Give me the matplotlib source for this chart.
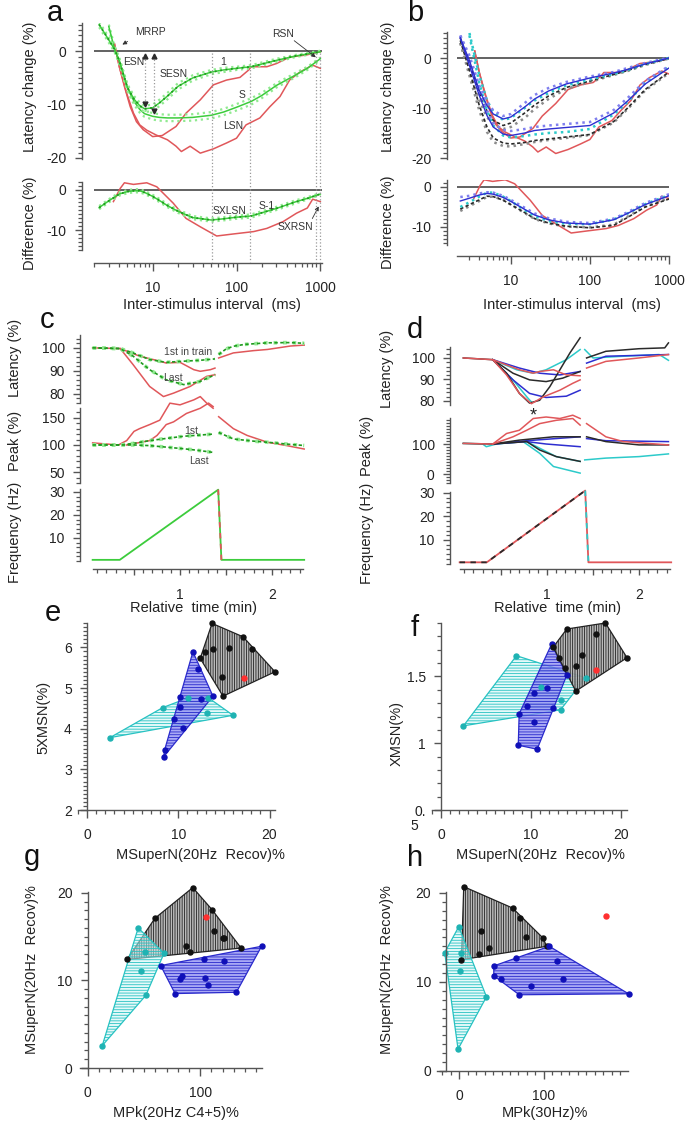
import numpy as np
import matplotlib
matplotlib.use('Agg')
import matplotlib.pyplot as plt
import matplotlib.transforms as mtransforms
from matplotlib.patches import Polygon, FancyArrowPatch
from matplotlib.lines import Line2D
from matplotlib.ticker import MultipleLocator, NullFormatter

plt.rcParams['font.family'] = ['Liberation Sans', 'DejaVu Sans']
plt.rcParams['axes.unicode_minus'] = False
plt.rcParams['hatch.linewidth'] = 0.6

nan = np.nan

# ---------------- panel a / b : latency recovery vs inter-stimulus interval
a_isi = [2.3, 3, 3.5, 4, 5, 6, 7, 8, 10, 12, 15, 20, 30, 50, 70, 100, 150, 200, 300, 500, 700, 1000]
a_g1 = [5.0, 2.1, 0.4, -1.8, -6.8, -9.0, -10.2, -10.8, -10.6, -9.7, -8.4, -6.6, -5.0, -3.9, -3.5, -3.2, -2.9, -2.4, -1.7, -0.9, -0.5, -0.1]
a_g1_hi = [5.5, 2.6, 0.9, -1.3, -6.2, -8.4, -9.6, -10.2, -10.0, -9.1, -7.8, -6.0, -4.5, -3.5, -3.1, -2.9, -2.6, -2.1, -1.4, -0.7, -0.3, 0.1]
a_g1_lo = [4.5, 1.6, -0.1, -2.3, -7.4, -9.6, -10.8, -11.4, -11.2, -10.3, -9.0, -7.2, -5.5, -4.3, -3.9, -3.5, -3.2, -2.7, -2.0, -1.1, -0.7, -0.3]
a_gS = [nan, 4.6, 0.5, -1.8, -6.9, -9.4, -10.9, -11.7, -12.2, -12.4, -12.5, -12.5, -12.4, -12.0, -11.4, -10.5, -9.4, -8.3, -6.4, -4.5, -3.2, -1.4]
a_gS_hi = [nan, 5.0, 1.0, -1.3, -6.3, -8.8, -10.3, -11.1, -11.6, -11.8, -11.9, -11.9, -11.8, -11.4, -10.8, -9.9, -8.8, -7.8, -6.0, -4.1, -2.9, -1.2]
a_gS_lo = [nan, 4.2, 0.0, -2.3, -7.5, -10.0, -11.5, -12.3, -12.8, -13.0, -13.1, -13.1, -13.0, -12.6, -12.0, -11.1, -10.0, -8.8, -6.8, -4.9, -3.5, -1.6]
a_gd = [-4.4, -2.7, -1.8, -1.0, -0.4, -0.2, -0.2, -0.6, -1.6, -2.6, -3.9, -5.3, -6.9, -7.5, -7.2, -6.8, -6.5, -5.7, -4.6, -3.0, -2.1, -1.0]
a_gd_hi = [-4.0, -2.3, -1.4, -0.6, 0.0, 0.2, 0.2, -0.2, -1.2, -2.2, -3.5, -4.9, -6.5, -7.1, -6.8, -6.4, -6.1, -5.3, -4.2, -2.6, -1.8, -0.8]
a_gd_lo = [-4.8, -3.1, -2.2, -1.4, -0.8, -0.6, -0.6, -1.0, -2.0, -3.0, -4.3, -5.7, -7.3, -7.9, -7.6, -7.2, -6.9, -6.1, -5.0, -3.4, -2.4, -1.2]

a_r1_x = [3.5, 4, 4.6, 5.4, 6.4, 7.7, 10, 13, 19, 25, 37, 53, 76, 110, 140, 150, 230, 300, 430, 680, 1000]
a_r1_y = [1.4, -2.9, -6.6, -10.4, -13.2, -14.7, -16.0, -15.8, -14.1, -11.6, -9.1, -6.3, -5.4, -4.9, -3.5, -2.9, -2.9, -2.3, -1.1, -0.7, -0.1]
a_r2_x = [3.5, 4, 4.9, 5.9, 7, 8.5, 11, 15, 19, 22, 28, 37, 53, 76, 100, 130, 190, 250, 330, 430, 570, 810, 1000]
a_r2_y = [1.4, -2.9, -7.9, -11.6, -13.8, -14.8, -15.7, -16.6, -17.8, -18.8, -17.8, -19.1, -18.3, -17.2, -16.3, -13.8, -12.5, -10.4, -8.5, -5.4, -3.9, -2.6, -3.2]
a_rd_x = [3.4, 4.1, 4.6, 5.9, 8.5, 11.2, 17.6, 25, 37, 58, 91, 160, 230, 360, 520, 700, 810, 1000]
a_rd_y = [-2.9, 0.4, 1.8, 1.4, 1.8, 0.8, -3.3, -7.1, -9.2, -11.5, -11.0, -10.4, -9.6, -7.9, -5.8, -4.5, -2.3, -2.9]
a_vlines = [51, 144, 880, 1000]
a_arrow_x = [8.1, 10.5]
a_arrow_y = [-9.8, -11.2]

b_isi = [2.3, 3, 4, 5, 6, 8, 10, 15, 20, 30, 50, 100, 200, 300, 500, 1000]
b_blue1 = [4, -0.5, -6.5, -9.5, -11.2, -12.2, -11.8, -9.8, -8.2, -6.6, -5.2, -4.0, -3.0, -2.3, -1.2, 0]
b_bluedot1 = [4.5, 0.5, -5.5, -8.7, -10.5, -11.6, -11.2, -9.0, -7.4, -6.0, -4.8, -3.7, -2.8, -2.0, -1.0, 0.1]
b_cyan1 = [nan, 5, -3.5, -8.5, -10.8, -12.4, -12.0, -10.0, -8.5, -7.0, -5.5, -4.3, -3.2, -2.4, -1.2, 0]
b_black1 = [4, -1, -7, -10.6, -12.5, -13.5, -13.0, -11.0, -9.4, -7.6, -5.9, -4.6, -3.3, -2.5, -1.3, -0.1]
b_grey1 = [3, -2.5, -8.5, -11.8, -13.3, -14.2, -13.8, -12.0, -10.2, -8.2, -6.2, -4.8, -3.4, -2.6, -1.4, -0.1]
b_blueS = [4, -1.5, -7.5, -11.5, -13.8, -15.2, -15.5, -15.0, -14.5, -14.2, -13.9, -13.5, -11.0, -8.6, -5.2, -2.0]
b_bluedotS = [4.5, -0.5, -6.5, -10.5, -13.0, -14.4, -14.6, -14.2, -13.8, -13.5, -13.2, -12.8, -10.4, -8.0, -4.6, -1.6]
b_cyanS = [nan, 4.5, -5, -10.5, -13.5, -15.5, -15.9, -15.6, -15.3, -15.0, -14.8, -14.2, -11.3, -8.8, -5.0, -1.8]
b_blackS = [3.5, -2.5, -9.5, -13.8, -16.0, -17.0, -17.2, -16.9, -16.5, -16.2, -15.8, -15.3, -12.7, -10.0, -6.3, -2.8]
b_greyS = [3, -3.5, -10.5, -14.8, -16.8, -17.6, -17.7, -17.2, -16.8, -16.4, -16.0, -15.4, -12.9, -10.2, -6.5, -3.0]
b_blue_d = [-3.5, -2.8, -2.0, -1.6, -1.8, -2.6, -3.6, -5.6, -7.0, -8.2, -9.0, -9.3, -8.2, -6.6, -4.4, -2.2]
b_bluedot_d = [-2.5, -2.2, -1.6, -1.3, -1.4, -2.2, -3.2, -5.2, -6.6, -7.8, -8.7, -9.0, -7.9, -6.3, -4.0, -1.8]
b_cyan_d = [-5.0, -3.8, -2.4, -1.4, -1.4, -2.4, -3.5, -5.8, -7.3, -8.5, -9.2, -9.3, -8.1, -6.6, -4.3, -2.0]
b_black_d = [-5.5, -4.4, -3.2, -2.3, -2.4, -3.3, -4.4, -6.4, -7.9, -9.0, -9.8, -10.2, -9.6, -7.6, -5.0, -3.0]
b_grey_d = [-6.0, -4.8, -3.5, -2.5, -2.4, -3.2, -4.4, -6.5, -8.0, -9.1, -9.9, -10.1, -9.4, -7.4, -4.9, -2.8]

# ---------------- panel c / d : ramp stimulation (time in min)
c_t = [0.05, 0.35, 0.49, 0.67, 0.85, 1.04, 1.22, 1.38]
c_g1st = [100, 99.7, 97.8, 94.9, 93.7, 94.2, 94.6, 95.2]
c_glast = [100, 99.7, 96.4, 90.5, 86.1, 84.0, 85.4, 88.3]
c_grec_t = [1.42, 1.5, 1.58, 1.7, 1.95, 2.2, 2.35]
c_grec = [97.1, 99.5, 100.7, 101.5, 102.2, 102.3, 102.0]
c_r1st_t = [0.05, 0.35, 0.56, 0.75, 0.85, 1.0, 1.15, 1.22, 1.33, 1.38]
c_r1st = [100, 99.7, 96.4, 94.5, 93.4, 93.7, 90.5, 89.8, 90.5, 91.2]
c_rlast_t = [0.35, 0.49, 0.67, 0.82, 0.93, 1.11, 1.29, 1.38]
c_rlast = [99.7, 92.7, 83.2, 78.8, 80.3, 83.2, 87.6, 88.3]
c_rrec_t = [1.42, 1.58, 1.8, 1.95, 2.2, 2.35]
c_rrec = [95.6, 97.8, 98.8, 99.3, 100.8, 101.2]

c_pt = [0.05, 0.35, 0.5, 0.67, 0.85, 1.04, 1.2, 1.36]
c_gp1 = [100, 100, 103, 108, 112, 116, 118, 120]
c_gplast = [100, 100, 100, 98.8, 96, 93, 90, 86.3]
c_gprec_t = [1.42, 1.58, 1.8, 1.95, 2.2, 2.35]
c_gprec = [123, 111, 107, 105, 101, 99]
c_rp1_t = [0.05, 0.33, 0.42, 0.5, 0.56, 0.67, 0.78, 0.89, 1.0, 1.15, 1.22, 1.29, 1.36]
c_rp1 = [103.8, 100, 108, 125, 130, 137.5, 145.6, 176.9, 173.8, 183, 189, 177, 167.5]
c_rp2_t = [0.42, 0.67, 0.75, 0.85, 0.93, 1.07, 1.22, 1.31, 1.36]
c_rp2 = [100, 108, 117.5, 137.5, 142.5, 158, 167.5, 177, 170.6]
c_rprec_t = [1.42, 1.58, 1.73, 1.95, 2.16, 2.35]
c_rprec = [152, 130, 117.5, 105, 98.8, 92.5]

freq_t = [0.05, 0.345, 1.415, 1.45, 2.35]
freq_hz = [0.5, 0.5, 31, 0.5, 0.5]

d_blk_last_t = [0.09, 0.41, 0.56, 0.70, 0.81, 0.92, 1.03, 1.14, 1.25, 1.36]
d_blk_last = [100, 99.2, 92.9, 83.5, 79, 80.3, 86.6, 94.5, 102.4, 109.4]
d_blk_1st_t = [0.41, 0.63, 0.81, 0.99, 1.17, 1.36]
d_blk_1st = [99.2, 92.9, 89.8, 89, 90.6, 93.7]
d_blk_rec_t = [1.43, 1.64, 2.0, 2.28, 2.32]
d_blk_rec = [100, 103.1, 104.3, 104.7, 107]
d_red_last_t = [0.09, 0.41, 0.56, 0.70, 0.83, 0.96, 1.14, 1.28, 1.36]
d_red_last = [100, 99.2, 92.1, 83.5, 78.7, 81.9, 85, 88.2, 89.8]
d_red_1st_t = [0.41, 0.70, 0.85, 0.92, 1.07, 1.21, 1.36]
d_red_1st = [99.2, 94.5, 92.9, 93.7, 94.5, 92.1, 91.7]
d_red_rec_t = [1.43, 1.64, 2.0, 2.32]
d_red_rec = [95.3, 98.4, 100, 101.6]
d_blu_1st_t = [0.41, 0.70, 0.92, 1.14, 1.36]
d_blu_1st = [99.2, 95.3, 92.9, 92.1, 93.7]
d_blu_last_t = [0.41, 0.63, 0.81, 0.99, 1.21, 1.36]
d_blu_last = [99.2, 89.8, 83.5, 81.6, 82.2, 85]
d_blu_rec_t = [1.43, 1.64, 2.0, 2.32]
d_blu_rec = [97.6, 100.8, 101.2, 101.6]
d_cyn_1st_t = [0.41, 0.67, 0.85, 0.99, 1.21, 1.36]
d_cyn_1st = [99.2, 94.5, 92.9, 94.5, 99.2, 103.9]
d_cyn_last_t = [0.41, 0.63, 0.78, 0.83]
d_cyn_last = [99.2, 89.8, 81.9, 79.5]
d_cyn_rec_t = [1.41, 1.5, 1.83, 2.22, 2.32]
d_cyn_rec = [103.9, 100, 100.8, 101.6, 98.9]

d_red_p1_t = [0.09, 0.41, 0.56, 0.70, 0.85, 0.99, 1.14, 1.28, 1.36]
d_red_p1 = [102, 100, 135, 146, 185, 190, 185, 196, 185]
d_red_p2_t = [0.41, 0.63, 0.78, 0.92, 1.1, 1.28, 1.36]
d_red_p2 = [100, 124, 146, 168, 179, 185, 163]
d_red_prec_t = [1.43, 1.64, 1.83, 2.32]
d_red_prec = [168, 124, 108, 97]
d_blk_p1_t = [0.09, 0.41, 0.70, 1.07, 1.36]
d_blk_p1 = [102, 100, 113, 124, 124]
d_blk_p2_t = [0.41, 0.78, 0.92, 1.1, 1.36]
d_blk_p2 = [100, 108, 80, 58, 42]
d_blk_prec_t = [1.43, 1.64, 2.0, 2.32]
d_blk_prec = [124, 108, 97, 97]
d_blu_p1_t = [0.41, 0.78, 1.36]
d_blu_p1 = [100, 111, 124]
d_blu_p2_t = [0.41, 0.78, 0.99, 1.36]
d_blu_p2 = [100, 108, 100, 91]
d_blu_prec_t = [1.43, 1.64, 2.32]
d_blu_prec = [118, 111, 108]
d_cyn_p1_t = [0.09, 0.30, 0.34, 0.45, 0.74, 0.92, 1.07, 1.36]
d_cyn_p1 = [102, 100, 91, 100, 108, 69, 25, 3]
d_cyn_p2_t = [0.78, 0.92, 1.1, 1.36]
d_cyn_p2 = [108, 86, 58, 42]
d_cyn_prec_t = [1.41, 1.64, 2.0, 2.32]
d_cyn_prec = [47, 53, 58, 67]

# ---------------- panels e-h : group scatter
e_black_x = [12.4, 13.7, 17.1, 18.1, 20.6, 14.9, 12.9, 13.8, 15.6, 14.8]
e_black_y = [5.73, 6.59, 6.26, 5.95, 5.40, 4.80, 5.89, 5.97, 5.99, 5.26]
e_blue_x = [11.6, 12.2, 13.8, 12.5, 10.2, 10.2, 9.5, 10.5, 8.5, 8.4]
e_blue_y = [5.89, 5.48, 4.80, 4.72, 4.77, 4.54, 4.23, 4.02, 3.48, 3.31]
e_cyan_x = [2.5, 8.3, 11.1, 13.3, 13.1, 16.0]
e_cyan_y = [3.78, 4.52, 4.76, 4.76, 4.39, 4.33]
e_red = [17.2, 5.24]

f_black_x = [14.0, 18.3, 20.7, 15.0, 12.5, 13.1, 13.8, 15.0, 15.7, 17.3]
f_black_y = [1.855, 1.90, 1.64, 1.39, 1.72, 1.64, 1.56, 1.575, 1.66, 1.82]
f_blue_x = [12.3, 14.0, 12.5, 10.7, 8.6, 8.7, 9.6, 10.3, 11.8, 10.3]
f_blue_y = [1.74, 1.51, 1.26, 0.955, 0.985, 1.22, 1.28, 1.375, 1.41, 1.16]
f_cyan_x = [2.5, 8.4, 16.1, 13.3, 13.3, 11.1]
f_cyan_y = [1.13, 1.655, 1.49, 1.32, 1.25, 1.42]
f_red = [17.3, 1.55]

g_black_x = [93.4, 110.4, 136.4, 34.9, 59.7, 111.9, 120.3, 121.5, 87.5, 91.0]
g_black_y = [20.6, 18.1, 13.7, 12.4, 17.1, 15.6, 14.9, 14.8, 13.9, 13.2]
g_blue_x = [154.6, 132.2, 77.6, 64.8, 103.0, 121.5, 83.6, 82.1, 104.5, 106.6]
g_blue_y = [13.9, 8.65, 8.5, 11.7, 12.5, 12.2, 10.55, 10.2, 10.25, 9.5]
g_cyan_x = [12.8, 51.6, 67.8, 44.8, 46.9, 51.3]
g_cyan_y = [2.55, 8.3, 13.1, 16.0, 11.1, 13.2]
g_red = [104.8, 17.2]

h_black_x = [5.5, 63, 71.7, 99.2, 103, 2.8, 26.4, 78.7, 35.4, 23.6]
h_black_y = [20.7, 18.3, 17.2, 14.9, 14.0, 12.5, 15.7, 15.0, 13.8, 13.1]
h_blue_x = [106.3, 199.6, 70.9, 40.9, 40.9, 66.5, 115.7, 122.0, 84.6, 49.2]
h_blue_y = [14.0, 8.67, 8.56, 10.7, 11.8, 12.65, 12.3, 10.3, 9.5, 10.3]
h_cyan_x = [-0.4, -16.9, 2.8, 1.6, 32.3, -1.2]
h_cyan_y = [16.2, 13.3, 13.2, 11.25, 8.33, 2.46]
h_red = [173, 17.4]

GREEN = '#3ccc3c'
LGREEN = '#90ea90'
DGREEN = '#1e9a1e'
RED = '#e0575a'
BLUE = '#2e2ed0'
LBLUE = '#7f7fee'
CYAN = '#2ccaca'
BLACK = '#2a2a2a'
GREY = '#8c8c8c'
AXC = '#555555'

W, H = 685, 1122
fig = plt.figure(figsize=(W / 100, H / 100), dpi=100)


def axes_px(x0, y0, x1, y1):
    return fig.add_axes([x0 / W, 1 - y1 / H, (x1 - x0) / W, (y1 - y0) / H])


def ftext(x, y, s, **kw):
    fig.text(x / W, 1 - y / H, s, **kw)


def frame(ax, lpad=0, bpad=None):
    ax.patch.set_visible(False)
    ax.spines['top'].set_visible(False)
    ax.spines['right'].set_visible(False)
    ax.spines['left'].set_position(('outward', lpad * 0.72))
    if bpad is None:
        ax.spines['bottom'].set_visible(False)
        ax.tick_params(axis='x', which='both', bottom=False, labelbottom=False)
    else:
        ax.spines['bottom'].set_position(('outward', bpad * 0.72))
    for s in ('left', 'bottom'):
        ax.spines[s].set_color(AXC)
        ax.spines[s].set_linewidth(1.0)
    ax.tick_params(which='both', direction='out', colors=AXC, labelcolor='#222222', labelsize=10)
    ax.tick_params(which='major', length=5, width=1.0, pad=6)
    ax.tick_params(which='minor', length=3.2, width=0.9)
    ax.tick_params(axis='x', which='major', length=6, pad=7)


def log_axis(ax):
    ax.set_xscale('log')
    ax.set_xticks([10, 100, 1000])
    ax.set_xticklabels(['10', '100', '1000'])
    ax.xaxis.set_minor_formatter(NullFormatter())


def hull(xs, ys):
    pts = sorted(set(zip(xs, ys)))

    def cross(o, a, b):
        return (a[0] - o[0]) * (b[1] - o[1]) - (a[1] - o[1]) * (b[0] - o[0])
    lower, upper = [], []
    for p in pts:
        while len(lower) >= 2 and cross(lower[-2], lower[-1], p) <= 0:
            lower.pop()
        lower.append(p)
    for p in reversed(pts):
        while len(upper) >= 2 and cross(upper[-2], upper[-1], p) <= 0:
            upper.pop()
        upper.append(p)
    return lower[:-1] + upper[:-1]


def band(ax, x, c, hi, lo, dots=False):
    ax.plot(x, hi, ls=':', color=LGREEN, lw=1.6)
    ax.plot(x, lo, ls=':', color=LGREEN, lw=1.6)
    ax.plot(x, c, color=GREEN, lw=1.1)
    if dots:
        ax.plot(x, c, ls=(0, (1, 2)), color=DGREEN, lw=1.3)


# ================= panel a
ax = axes_px(94, 23, 322, 159)
frame(ax, 12)
log_axis(ax)
ax.set_xlim(10 ** 0.30, 10 ** 3.02)
ax.set_ylim(-20.2, 5.3)
ax.set_yticks([0, -10, -20])
ax.yaxis.set_minor_locator(MultipleLocator(1))
ax.axhline(0, color='#555555', lw=1.3)
ax.plot(a_r1_x, a_r1_y, color=RED, lw=1.1)
ax.plot(a_r2_x, a_r2_y, color=RED, lw=1.1)
band(ax, a_isi, a_gS, a_gS_hi, a_gS_lo)
band(ax, a_isi, a_g1, a_g1_hi, a_g1_lo, dots=True)
for xv, yv in zip(a_arrow_x, a_arrow_y):
    ax.plot([xv, xv], [-0.9, yv], ls=':', color='#999999', lw=0.9)
    ax.plot([xv], [-0.9], marker='^', color=BLACK, ms=3.5)
    ax.plot([xv], [yv], marker='v', color=BLACK, ms=3.5)
ax_a = ax

ax = axes_px(94, 182, 322, 250)
frame(ax, 12, 13)
log_axis(ax)
ax.set_xlim(10 ** 0.30, 10 ** 3.02)
ax.set_ylim(-15, 2)
ax.set_yticks([0, -10])
ax.yaxis.set_minor_locator(MultipleLocator(1))
ax.axhline(0, color='#555555', lw=1.3)
ax.plot(a_rd_x, a_rd_y, color=RED, lw=1.1)
band(ax, a_isi, a_gd, a_gd_hi, a_gd_lo, dots=True)

trans = mtransforms.blended_transform_factory(ax_a.transData, fig.transFigure)
for xv in a_vlines:
    fig.add_artist(Line2D([xv, xv], [1 - 53 / H, 1 - 262 / H], transform=trans,
                          ls=':', color='#999999', lw=0.9))

ann = dict(fontsize=7.5, color='#333333', ha='center', va='center')
ftext(150, 32, 'MRRP', **ann)
ftext(134, 62, 'ESN', **ann)
ftext(174, 74, 'SESN', **ann)
ftext(223, 62, '1', **ann)
ftext(242, 95, 'S', **ann)
ftext(233, 126, 'LSN', **ann)
ftext(283, 34, 'RSN', **ann)
ftext(230, 211, 'SXLSN', **ann)
ftext(267, 206, 'S-1', **ann)
ftext(295, 227, 'SXRSN', **ann)
arrow = dict(arrowstyle='-|>', color='#333333', lw=0.6, mutation_scale=6)
for (x0, y0), (x1, y1) in [((130, 40), (120, 46)), ((292, 39), (318, 59)), ((311, 221), (320, 204))]:
    fig.add_artist(FancyArrowPatch((x0 / W, 1 - y0 / H), (x1 / W, 1 - y1 / H),
                                   transform=fig.transFigure, **arrow))

# ================= panel b
ax = axes_px(457, 32, 669, 159)
frame(ax, 10)
log_axis(ax)
ax.set_xlim(10 ** 0.32, 10 ** 3.0)
ax.set_ylim(-20.2, 5.2)
ax.set_yticks([0, -10, -20])
ax.yaxis.set_minor_locator(MultipleLocator(1))
ax.axhline(0, color='#555555', lw=1.3)
ax.plot(a_r1_x, a_r1_y, color=RED, lw=1.1)
ax.plot(a_r2_x, a_r2_y, color=RED, lw=1.1)
for ys in (b_grey1, b_greyS):
    ax.plot(b_isi, ys, ls=':', color=GREY, lw=1.8)
for ys in (b_black1, b_blackS):
    ax.plot(b_isi, ys, ls=(0, (2, 1.5)), color=BLACK, lw=1.2)
for ys in (b_cyan1, b_cyanS):
    ax.plot(b_isi, ys, ls=':', color=CYAN, lw=1.8)
for ys in (b_bluedot1, b_bluedotS):
    ax.plot(b_isi, ys, ls=':', color=LBLUE, lw=1.8)
for ys in (b_blue1, b_blueS):
    ax.plot(b_isi, ys, color=BLUE, lw=1.0)

ax = axes_px(457, 180, 669, 245)
frame(ax, 10, 11)
log_axis(ax)
ax.set_xlim(10 ** 0.32, 10 ** 3.0)
ax.set_ylim(-14.5, 1.75)
ax.set_yticks([0, -10])
ax.yaxis.set_minor_locator(MultipleLocator(1))
ax.axhline(0, color='#555555', lw=1.3)
ax.plot(a_rd_x, a_rd_y, color=RED, lw=1.1)
ax.plot(b_isi, b_grey_d, ls=':', color=GREY, lw=1.8)
ax.plot(b_isi, b_black_d, ls=(0, (2, 1.5)), color=BLACK, lw=1.2)
ax.plot(b_isi, b_cyan_d, ls=':', color=CYAN, lw=1.8)
ax.plot(b_isi, b_bluedot_d, ls=':', color=LBLUE, lw=1.8)
ax.plot(b_isi, b_blue_d, color=BLUE, lw=1.0)


# ================= panel c
def time_axes(x0, x1, rows, lpad, bpad):
    axs = []
    for i, (y0, y1, lim) in enumerate(rows):
        a = axes_px(x0, y0, x1, y1)
        frame(a, lpad, bpad if i == len(rows) - 1 else None)
        a.set_xlim(0.054, 2.337)
        a.set_ylim(*lim)
        axs.append(a)
    last = axs[-1]
    last.set_xticks([0.5, 1, 1.5, 2])
    last.set_xticklabels(['', '1', '', '2'])
    last.xaxis.set_minor_locator(MultipleLocator(0.1))
    last.tick_params(axis='x', which='major', length=4, pad=10)
    return axs


c_lat, c_pk, c_fr = time_axes(93, 303, [(335, 403, (76, 105.6)), (408, 483, (30, 168)),
                                        (489, 561, (0, 31.3))], 13, 8)
c_lat.set_yticks([80, 90, 100])
c_lat.yaxis.set_minor_locator(MultipleLocator(2))
c_pk.set_yticks([50, 100, 150])
c_pk.yaxis.set_minor_locator(MultipleLocator(10))
c_fr.set_yticks([10, 20, 30])
c_fr.yaxis.set_minor_locator(MultipleLocator(2))

lk = dict(lw=1.1, clip_on=False)
c_lat.plot(c_r1st_t, c_r1st, color=RED, **lk)
c_lat.plot(c_rlast_t, c_rlast, color=RED, **lk)
c_lat.plot(c_rrec_t, c_rrec, color=RED, **lk)
for ys in (c_g1st, c_glast):
    c_lat.plot(c_t, ys, ls=':', color=LGREEN, lw=2.6, clip_on=False)
    c_lat.plot(c_t, ys, ls=(0, (2, 1.5)), color=DGREEN, lw=1.2, clip_on=False)
c_lat.plot(c_grec_t, c_grec, ls=':', color=LGREEN, lw=2.6, clip_on=False)
c_lat.plot(c_grec_t, c_grec, ls=(0, (2, 1.5)), color=DGREEN, lw=1.2, clip_on=False)

c_pk.plot(c_rp1_t, c_rp1, color=RED, **lk)
c_pk.plot(c_rp2_t, c_rp2, color=RED, **lk)
c_pk.plot(c_rprec_t, c_rprec, color=RED, **lk)
for tt, ys in ((c_pt, c_gp1), (c_pt, c_gplast), (c_gprec_t, c_gprec)):
    c_pk.plot(tt, ys, ls=':', color=LGREEN, lw=2.6, clip_on=False)
    c_pk.plot(tt, ys, ls=(0, (2, 1.5)), color=DGREEN, lw=1.2, clip_on=False)

c_fr.plot(freq_t, freq_hz, color=GREEN, lw=1.3, clip_on=False)
c_fr.plot(freq_t[2:4], freq_hz[2:4], ls=(0, (3, 3)), color=RED, lw=1.3, clip_on=False)

lab = dict(fontsize=7.5, color='#444444', ha='center', va='center')
ftext(188, 352, '1st in train', **lab)
ftext(173, 378, 'Last', **lab)
ftext(191, 431, '1st', **lab)
ftext(199, 461, 'Last', **lab)

# ================= panel d
d_lat, d_pk, d_fr = time_axes(460, 670, [(347, 405, (78.1, 105.1)), (418, 483, (-30, 186.7)),
                                         (492, 563.5, (0, 30.4))], 10, 5.5)
d_lat.set_yticks([80, 90, 100])
d_lat.yaxis.set_minor_locator(MultipleLocator(2))
d_pk.set_yticks([0, 100])
d_pk.yaxis.set_minor_locator(MultipleLocator(10))
d_fr.set_yticks([10, 20, 30])
d_fr.yaxis.set_minor_locator(MultipleLocator(2))

for tt, ys, col in ((d_cyn_1st_t, d_cyn_1st, CYAN), (d_cyn_last_t, d_cyn_last, CYAN),
                    (d_cyn_rec_t, d_cyn_rec, CYAN),
                    (d_blu_1st_t, d_blu_1st, BLUE), (d_blu_last_t, d_blu_last, BLUE),
                    (d_blu_rec_t, d_blu_rec, BLUE),
                    (d_blk_1st_t, d_blk_1st, BLACK), (d_blk_last_t, d_blk_last, BLACK),
                    (d_blk_rec_t, d_blk_rec, BLACK),
                    (d_red_1st_t, d_red_1st, RED), (d_red_last_t, d_red_last, RED),
                    (d_red_rec_t, d_red_rec, RED)):
    d_lat.plot(tt, ys, color=col, **lk)

for tt, ys, col in ((d_cyn_p1_t, d_cyn_p1, CYAN), (d_cyn_p2_t, d_cyn_p2, CYAN),
                    (d_cyn_prec_t, d_cyn_prec, CYAN),
                    (d_blu_p1_t, d_blu_p1, BLUE), (d_blu_p2_t, d_blu_p2, BLUE),
                    (d_blu_prec_t, d_blu_prec, BLUE),
                    (d_blk_p1_t, d_blk_p1, BLACK), (d_blk_p2_t, d_blk_p2, BLACK),
                    (d_blk_prec_t, d_blk_prec, BLACK),
                    (d_red_p1_t, d_red_p1, RED), (d_red_p2_t, d_red_p2, RED),
                    (d_red_prec_t, d_red_prec, RED)):
    d_pk.plot(tt, ys, color=col, **lk)

d_fr.plot(freq_t, freq_hz, color=RED, lw=1.3, clip_on=False)
d_fr.plot(freq_t[:3], freq_hz[:3], ls=(0, (3, 3)), color=BLACK, lw=1.3, clip_on=False)
d_fr.plot(freq_t[2:4], freq_hz[2:4], ls=(0, (3, 3)), color=CYAN, lw=1.3, clip_on=False)
ftext(533, 416, '*', fontsize=13, ha='center', va='center', color='#222222')


# ================= panels e-h
def scatter_panel(box, xlim, ylim, yspine, groups, red):
    ax = axes_px(*box)
    frame(ax, 0, 0)
    ax.spines['left'].set_position(('data', yspine))
    ax.set_xlim(*xlim)
    ax.set_ylim(*ylim)
    styles = {
        'black': dict(fc=(0.70, 0.70, 0.70, 0.9), ec='#222222', hatch='|||||||', pc='#111111'),
        'cyan': dict(fc=(0.82, 0.96, 0.96, 0.55), ec='#27c2c2', hatch='------', pc='#1fb3b3'),
        'blue': dict(fc=(0.55, 0.55, 0.95, 0.75), ec='#2a2acc', hatch='------', pc='#1010b8'),
    }
    for name, xs, ys in groups:
        st = styles[name]
        ax.add_patch(Polygon(hull(xs, ys), closed=True, facecolor=st['fc'], edgecolor=st['ec'],
                             hatch=st['hatch'], lw=0.9, clip_on=False))
    for name, xs, ys in groups:
        ax.plot(xs, ys, 'o', color=styles[name]['pc'], ms=3.6, ls='none', clip_on=False)
    ax.plot([red[0]], [red[1]], 'o', color='#ff3030', ms=3.6, clip_on=False)
    return ax


ax = scatter_panel((78, 623, 275, 810), (-1, 20.6), (2, 6.6), 0,
                   [('cyan', e_cyan_x, e_cyan_y), ('blue', e_blue_x, e_blue_y),
                    ('black', e_black_x, e_black_y)], e_red)
ax.set_xticks([0, 10, 20])
ax.xaxis.set_minor_locator(MultipleLocator(1))
ax.set_yticks([2, 3, 4, 5, 6])
ax.yaxis.set_minor_locator(MultipleLocator(0.1))

ax = scatter_panel((432, 623, 627, 810), (-1, 20.7), (0.5, 1.9), 0,
                   [('cyan', f_cyan_x, f_cyan_y), ('blue', f_blue_x, f_blue_y),
                    ('black', f_black_x, f_black_y)], f_red)
ax.set_xticks([0, 10, 20])
ax.xaxis.set_minor_locator(MultipleLocator(1))
ax.set_yticks([0.5, 1, 1.5])
ax.set_yticklabels(['0.', '1', '1.5'])
ax.yaxis.set_minor_locator(MultipleLocator(0.1))
ftext(414, 826, '5', fontsize=10, ha='center', va='center', color='#222222')

ax = scatter_panel((80, 892, 262, 1068), (-7, 155), (0, 20.1), 0,
                   [('black', g_black_x, g_black_y), ('cyan', g_cyan_x, g_cyan_y),
                    ('blue', g_blue_x, g_blue_y)], g_red)
ax.set_xticks([0, 100])
ax.xaxis.set_minor_locator(MultipleLocator(10))
ax.set_yticks([0, 10, 20])
ax.yaxis.set_minor_locator(MultipleLocator(1))

ax = scatter_panel((437, 892, 628, 1071), (-26, 199), (0, 20.1), -15,
                   [('black', h_black_x, h_black_y), ('cyan', h_cyan_x, h_cyan_y),
                    ('blue', h_blue_x, h_blue_y)], h_red)
ax.set_xticks([0, 100])
ax.xaxis.set_minor_locator(MultipleLocator(10))
ax.set_yticks([0, 10, 20])
ax.yaxis.set_minor_locator(MultipleLocator(1))

# make sure the minor ticks of every axis are drawn with the same style
for a in fig.axes:
    a.yaxis.set_tick_params(which='minor', length=3.2, width=0.9, color=AXC, left=True)
    if a.spines['bottom'].get_visible():
        a.xaxis.set_tick_params(which='minor', length=3.2, width=0.9, color=AXC, bottom=True)

# ================= labels
yl = dict(fontsize=10.5, rotation=90, ha='center', va='center', color='#222222')
ftext(30, 87, 'Latency change (%)', **yl)
ftext(30, 223, 'Difference (%)', **yl)
ftext(388, 87, 'Latency change (%)', **yl)
ftext(388, 222, 'Difference (%)', **yl)
ftext(15, 358, 'Latency (%)', **yl)
ftext(15, 441, 'Peak (%)', **yl)
ftext(15, 532, 'Frequency (Hz)', **yl)
ftext(387, 369, 'Latency (%)', **yl)
ftext(367, 446, 'Peak (%)', **yl)
ftext(367, 533, 'Frequency (Hz)', **yl)
ftext(43, 717, '5XMSN(%)', **yl)
ftext(397, 733, 'XMSN(%)', **yl)
ftext(32, 970, 'MSuperN(20Hz  Recov)%', **yl)
ftext(387, 970, 'MSuperN(20Hz  Recov)%', **yl)

xl = dict(fontsize=10.5, ha='center', va='center', color='#222222')
ftext(212, 305, 'Inter-stimulus interval  (ms)', **xl)
ftext(572, 305, 'Inter-stimulus interval  (ms)', **xl)
ftext(194, 608, 'Relative  time (min)', **xl)
ftext(558, 608, 'Relative  time (min)', **xl)
ftext(200, 855, 'MSuperN(20Hz  Recov)%', **xl)
ftext(540, 855, 'MSuperN(20Hz  Recov)%', **xl)
ftext(176, 1113, 'MPk(20Hz C4+5)%', **xl)
ftext(545, 1113, 'MPk(30Hz)%', **xl)

pl = dict(fontsize=21, ha='center', va='center', color='#111111')
for (x, y, s) in [(55, 13, 'a'), (415, 13, 'b'), (47, 320, 'c'), (415, 330, 'd'),
                  (53, 613, 'e'), (415, 628, 'f'), (32, 857, 'g'), (415, 858, 'h')]:
    ftext(x, y, s, **pl)

fig.savefig('out.png', dpi=100)
